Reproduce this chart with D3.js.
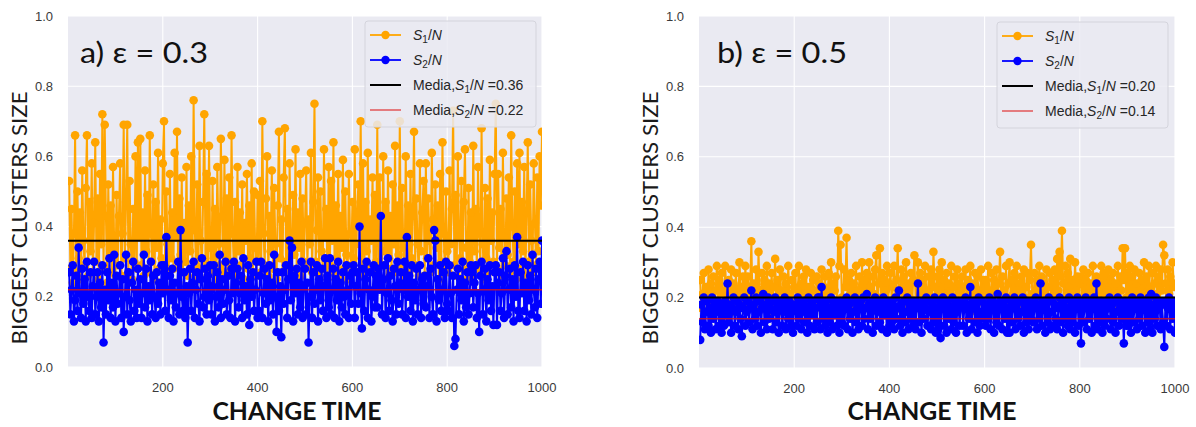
<!DOCTYPE html>
<html>
<head>
<meta charset="utf-8">
<script src="https://cdn.jsdelivr.net/npm/d3@7"></script>
<style>
  body { margin: 0; background: #ffffff; }
  svg { display: block; }
</style>
</head>
<body>
<svg id="chart" width="1196" height="427"></svg>
<script>
// Change times, sampled every 2.5 steps (400 samples)
const changeTimes = d3.range(1, 401).map(k => k * 2.5);

// Biggest cluster (S1/N) and second cluster (S2/N), epsilon = 0.3
const s1Eps03 = [
  0.53,0.28,0.45,0.24,0.38,0.66,0.27,0.50,0.31,0.44,0.25,0.56,0.36,0.29,0.51,0.66,0.26,0.47,0.33,0.58,
  0.27,0.41,0.64,0.30,0.48,0.25,0.55,0.35,0.72,0.28,0.69,0.43,0.24,0.52,0.31,0.46,0.27,0.57,0.34,0.26,
  0.49,0.29,0.43,0.58,0.26,0.38,0.69,0.31,0.47,0.69,0.27,0.53,0.35,0.25,0.45,0.30,0.60,0.28,0.64,0.37,
  0.65,0.29,0.44,0.26,0.56,0.33,0.49,0.27,0.66,0.38,0.30,0.52,0.25,0.47,0.34,0.61,0.28,0.42,0.31,0.58,
  0.70,0.27,0.50,0.35,0.26,0.55,0.31,0.44,0.28,0.61,0.37,0.67,0.24,0.48,0.32,0.54,0.27,0.41,0.30,0.57,
  0.26,0.46,0.33,0.60,0.28,0.76,0.39,0.29,0.52,0.25,0.63,0.36,0.28,0.47,0.72,0.30,0.55,0.26,0.63,0.34,
  0.27,0.53,0.31,0.45,0.25,0.57,0.35,0.29,0.65,0.43,0.27,0.59,0.32,0.48,0.26,0.54,0.30,0.66,0.38,0.28,
  0.47,0.26,0.57,0.33,0.44,0.29,0.52,0.25,0.41,0.36,0.55,0.28,0.46,0.31,0.58,0.27,0.50,0.34,0.26,0.49,
  0.30,0.53,0.27,0.70,0.38,0.29,0.48,0.60,0.26,0.43,0.33,0.56,0.28,0.51,0.35,0.25,0.46,0.67,0.31,0.42,
  0.27,0.54,0.68,0.30,0.45,0.25,0.58,0.36,0.28,0.49,0.32,0.62,0.27,0.44,0.34,0.55,0.26,0.48,0.30,0.41,
  0.56,0.29,0.42,0.35,0.61,0.27,0.47,0.75,0.30,0.39,0.54,0.26,0.50,0.33,0.28,0.62,0.37,0.45,0.25,0.57,
  0.29,0.53,0.36,0.64,0.27,0.46,0.31,0.55,0.26,0.43,0.34,0.59,0.28,0.50,0.32,0.25,0.55,0.38,0.29,0.47,
  0.31,0.62,0.27,0.44,0.52,0.35,0.70,0.29,0.58,0.26,0.47,0.33,0.61,0.28,0.42,0.36,0.54,0.27,0.49,0.30,
  0.69,0.26,0.54,0.37,0.29,0.60,0.33,0.47,0.25,0.56,0.31,0.43,0.28,0.52,0.35,0.63,0.27,0.46,0.32,0.70,
  0.28,0.51,0.34,0.25,0.60,0.38,0.46,0.27,0.55,0.31,0.43,0.67,0.29,0.48,0.35,0.26,0.58,0.33,0.44,0.53,
  0.26,0.58,0.31,0.48,0.36,0.27,0.61,0.42,0.29,0.52,0.34,0.46,0.25,0.55,0.30,0.64,0.38,0.28,0.50,0.33,
  0.27,0.56,0.35,0.45,0.73,0.29,0.49,0.26,0.60,0.37,0.31,0.53,0.28,0.47,0.62,0.34,0.25,0.51,0.30,0.44,
  0.26,0.63,0.33,0.45,0.28,0.57,0.38,0.29,0.68,0.35,0.25,0.51,0.31,0.48,0.27,0.59,0.36,0.44,0.30,0.55,
  0.75,0.28,0.55,0.34,0.45,0.26,0.61,0.37,0.29,0.48,0.32,0.54,0.27,0.66,0.40,0.30,0.50,0.25,0.58,0.35,
  0.61,0.28,0.47,0.33,0.57,0.26,0.44,0.64,0.30,0.52,0.36,0.27,0.58,0.41,0.29,0.54,0.33,0.60,0.46,0.67
];
const s2Eps03 = [
  0.27,0.15,0.22,0.29,0.13,0.19,0.26,0.16,0.34,0.21,0.14,0.28,0.18,0.25,0.13,0.30,0.20,0.16,0.27,0.14,
  0.23,0.30,0.15,0.20,0.27,0.13,0.24,0.17,0.29,0.07,0.22,0.15,0.27,0.19,0.31,0.14,0.24,0.17,0.32,0.13,
  0.26,0.18,0.21,0.29,0.14,0.25,0.10,0.20,0.32,0.15,0.27,0.19,0.13,0.24,0.30,0.16,0.22,0.14,0.28,0.18,
  0.25,0.14,0.21,0.32,0.17,0.28,0.13,0.23,0.19,0.30,0.15,0.26,0.20,0.14,0.27,0.18,0.24,0.15,0.29,0.21,
  0.29,0.16,0.37,0.22,0.14,0.26,0.19,0.28,0.13,0.24,0.17,0.21,0.30,0.15,0.39,0.20,0.16,0.27,0.14,0.23,
  0.07,0.21,0.28,0.16,0.24,0.30,0.14,0.22,0.27,0.18,0.13,0.25,0.31,0.17,0.20,0.28,0.15,0.26,0.19,0.29,
  0.15,0.23,0.29,0.13,0.20,0.27,0.17,0.32,0.14,0.25,0.18,0.22,0.30,0.15,0.26,0.19,0.14,0.28,0.21,0.30,
  0.13,0.24,0.28,0.17,0.21,0.26,0.14,0.31,0.19,0.23,0.15,0.29,0.12,0.25,0.20,0.27,0.16,0.22,0.30,0.14,
  0.16,0.26,0.30,0.14,0.21,0.28,0.18,0.25,0.13,0.29,0.19,0.24,0.15,0.32,0.20,0.10,0.27,0.16,0.23,0.085,
  0.27,0.18,0.22,0.29,0.14,0.25,0.36,0.19,0.34,0.13,0.26,0.21,0.28,0.15,0.24,0.17,0.30,0.14,0.23,0.28,
  0.15,0.24,0.07,0.20,0.30,0.14,0.27,0.18,0.22,0.29,0.13,0.25,0.19,0.28,0.16,0.23,0.31,0.14,0.26,0.17,
  0.31,0.15,0.22,0.28,0.14,0.25,0.19,0.30,0.13,0.24,0.17,0.27,0.20,0.15,0.29,0.22,0.14,0.26,0.18,0.27,
  0.29,0.14,0.23,0.27,0.18,0.40,0.21,0.11,0.28,0.16,0.25,0.30,0.14,0.22,0.27,0.13,0.20,0.29,0.17,0.26,
  0.17,0.28,0.22,0.43,0.15,0.25,0.29,0.14,0.21,0.31,0.16,0.26,0.19,0.13,0.28,0.23,0.15,0.30,0.18,0.24,
  0.27,0.15,0.22,0.30,0.14,0.37,0.20,0.26,0.16,0.29,0.13,0.24,0.19,0.28,0.15,0.22,0.29,0.14,0.25,0.18,
  0.26,0.17,0.23,0.31,0.14,0.28,0.20,0.15,0.39,0.36,0.13,0.25,0.19,0.29,0.16,0.22,0.27,0.14,0.30,0.18,
  0.16,0.29,0.21,0.14,0.26,0.06,0.08,0.22,0.28,0.15,0.25,0.19,0.30,0.13,0.24,0.17,0.27,0.15,0.21,0.29,
  0.27,0.17,0.24,0.29,0.14,0.21,0.10,0.26,0.30,0.15,0.22,0.28,0.13,0.25,0.19,0.29,0.16,0.23,0.12,0.27,
  0.29,0.12,0.24,0.27,0.16,0.21,0.31,0.14,0.26,0.33,0.15,0.22,0.28,0.17,0.25,0.13,0.29,0.20,0.37,0.16,
  0.14,0.27,0.21,0.30,0.16,0.24,0.13,0.29,0.19,0.26,0.15,0.32,0.22,0.17,0.28,0.14,0.25,0.30,0.18,0.36
];

// Biggest cluster (S1/N) and second cluster (S2/N), epsilon = 0.5
const s1Eps05 = [
  0.25,0.17,0.21,0.27,0.19,0.23,0.16,0.28,0.20,0.24,0.18,0.26,0.17,0.22,0.29,0.19,0.25,0.16,0.27,0.21,
  0.18,0.29,0.22,0.17,0.25,0.20,0.28,0.16,0.24,0.19,0.27,0.21,0.17,0.30,0.23,0.18,0.26,0.20,0.29,0.17,
  0.26,0.19,0.23,0.36,0.18,0.24,0.20,0.28,0.16,0.33,0.22,0.19,0.27,0.17,0.25,0.21,0.29,0.18,0.24,0.16,
  0.27,0.20,0.23,0.31,0.17,0.25,0.19,0.28,0.22,0.16,0.26,0.20,0.24,0.18,0.29,0.21,0.17,0.25,0.19,0.23,
  0.27,0.18,0.22,0.29,0.19,0.24,0.17,0.26,0.21,0.28,0.16,0.23,0.20,0.27,0.18,0.25,0.22,0.17,0.26,0.19,
  0.24,0.20,0.28,0.17,0.23,0.26,0.18,0.21,0.27,0.19,0.30,0.17,0.24,0.22,0.26,0.18,0.39,0.29,0.35,0.20,
  0.19,0.28,0.23,0.37,0.18,0.25,0.21,0.27,0.17,0.24,0.20,0.29,0.18,0.22,0.26,0.19,0.30,0.17,0.25,0.21,
  0.27,0.19,0.30,0.23,0.18,0.26,0.21,0.28,0.32,0.17,0.24,0.34,0.20,0.27,0.18,0.25,0.22,0.29,0.19,0.24,
  0.27,0.18,0.23,0.29,0.20,0.25,0.34,0.17,0.22,0.28,0.19,0.26,0.21,0.30,0.18,0.24,0.20,0.27,0.17,0.25,
  0.32,0.19,0.24,0.30,0.18,0.27,0.21,0.25,0.17,0.29,0.22,0.19,0.26,0.20,0.28,0.18,0.33,0.23,0.19,0.26,
  0.17,0.28,0.22,0.30,0.19,0.25,0.21,0.27,0.18,0.24,0.20,0.29,0.17,0.23,0.26,0.19,0.28,0.21,0.24,0.18,
  0.26,0.19,0.23,0.28,0.17,0.25,0.21,0.29,0.18,0.24,0.20,0.27,0.16,0.26,0.22,0.19,0.28,0.20,0.25,0.18,
  0.25,0.19,0.29,0.22,0.17,0.27,0.20,0.25,0.18,0.28,0.21,0.24,0.33,0.19,0.26,0.22,0.18,0.29,0.20,0.24,
  0.30,0.18,0.25,0.21,0.27,0.19,0.29,0.17,0.24,0.22,0.26,0.18,0.28,0.20,0.23,0.27,0.19,0.25,0.35,0.21,
  0.18,0.27,0.22,0.25,0.19,0.29,0.17,0.26,0.21,0.24,0.18,0.28,0.20,0.23,0.27,0.19,0.25,0.21,0.28,0.18,
  0.31,0.22,0.33,0.26,0.39,0.24,0.19,0.29,0.21,0.27,0.18,0.31,0.20,0.25,0.17,0.30,0.22,0.26,0.19,0.24,
  0.26,0.19,0.28,0.21,0.25,0.18,0.27,0.20,0.24,0.17,0.29,0.22,0.19,0.26,0.21,0.24,0.18,0.29,0.20,0.27,
  0.19,0.26,0.22,0.28,0.18,0.25,0.20,0.27,0.17,0.24,0.21,0.29,0.19,0.26,0.22,0.34,0.25,0.34,0.20,0.27,
  0.18,0.29,0.21,0.26,0.19,0.28,0.20,0.24,0.17,0.27,0.22,0.25,0.19,0.30,0.21,0.26,0.18,0.29,0.23,0.20,
  0.27,0.19,0.24,0.29,0.21,0.26,0.18,0.28,0.22,0.35,0.32,0.24,0.19,0.28,0.21,0.26,0.18,0.30,0.23,0.24
];
const s2Eps05 = [
  0.08,0.18,0.13,0.20,0.11,0.16,0.19,0.12,0.17,0.10,0.20,0.14,0.18,0.11,0.16,0.19,0.12,0.17,0.10,0.18,
  0.12,0.19,0.15,0.24,0.13,0.18,0.10,0.17,0.20,0.12,0.16,0.19,0.11,0.18,0.14,0.09,0.17,0.20,0.12,0.16,
  0.19,0.13,0.17,0.22,0.11,0.18,0.14,0.20,0.12,0.16,0.19,0.10,0.17,0.21,0.13,0.18,0.11,0.20,0.14,0.17,
  0.19,0.11,0.16,0.20,0.13,0.18,0.10,0.17,0.19,0.12,0.16,0.20,0.11,0.18,0.14,0.19,0.12,0.17,0.10,0.18,
  0.17,0.12,0.20,0.14,0.18,0.11,0.16,0.19,0.13,0.17,0.10,0.20,0.12,0.18,0.15,0.19,0.11,0.17,0.13,0.20,
  0.20,0.11,0.23,0.14,0.18,0.12,0.19,0.10,0.17,0.13,0.20,0.11,0.18,0.15,0.19,0.12,0.17,0.10,0.19,0.13,
  0.19,0.12,0.17,0.20,0.11,0.18,0.14,0.19,0.10,0.16,0.20,0.13,0.18,0.11,0.17,0.19,0.12,0.20,0.14,0.17,
  0.21,0.11,0.18,0.14,0.19,0.10,0.17,0.20,0.12,0.16,0.19,0.13,0.18,0.11,0.20,0.15,0.17,0.10,0.19,0.12,
  0.19,0.13,0.18,0.11,0.20,0.14,0.17,0.22,0.12,0.18,0.10,0.19,0.13,0.16,0.20,0.11,0.18,0.14,0.19,0.12,
  0.19,0.11,0.17,0.24,0.13,0.18,0.10,0.19,0.14,0.17,0.20,0.12,0.16,0.19,0.11,0.18,0.13,0.20,0.10,0.17,
  0.11,0.19,0.085,0.17,0.20,0.12,0.18,0.10,0.19,0.14,0.17,0.11,0.20,0.13,0.18,0.10,0.16,0.19,0.12,0.18,
  0.19,0.12,0.17,0.20,0.10,0.18,0.14,0.23,0.11,0.17,0.19,0.13,0.18,0.10,0.20,0.12,0.16,0.19,0.14,0.18,
  0.12,0.18,0.14,0.20,0.11,0.17,0.19,0.10,0.18,0.13,0.21,0.12,0.17,0.19,0.11,0.18,0.14,0.20,0.10,0.17,
  0.10,0.19,0.13,0.17,0.20,0.11,0.18,0.14,0.19,0.12,0.16,0.20,0.10,0.18,0.13,0.19,0.11,0.17,0.14,0.19,
  0.13,0.17,0.20,0.11,0.18,0.14,0.24,0.12,0.17,0.19,0.10,0.18,0.13,0.20,0.11,0.16,0.19,0.12,0.18,0.14,
  0.11,0.17,0.20,0.13,0.18,0.10,0.19,0.14,0.17,0.12,0.20,0.11,0.18,0.13,0.19,0.10,0.17,0.20,0.12,0.18,
  0.07,0.19,0.13,0.17,0.20,0.11,0.18,0.14,0.19,0.10,0.17,0.20,0.12,0.24,0.11,0.18,0.13,0.19,0.10,0.17,
  0.12,0.19,0.14,0.17,0.20,0.11,0.18,0.13,0.19,0.10,0.16,0.20,0.12,0.18,0.14,0.17,0.07,0.19,0.12,0.18,
  0.12,0.18,0.10,0.20,0.13,0.17,0.19,0.11,0.18,0.14,0.20,0.12,0.17,0.19,0.10,0.18,0.13,0.20,0.11,0.21,
  0.10,0.18,0.14,0.20,0.12,0.17,0.19,0.11,0.18,0.13,0.06,0.19,0.12,0.17,0.20,0.11,0.18,0.14,0.19,0.10
];

// Reported averages shown in the legends
const meanS1 = [0.36, 0.20];
const meanS2 = [0.22, 0.14];

const panelLabels = ["a) \u03b5 = 0.3", "b) \u03b5 = 0.5"];
const yTickValues = [0.0, 0.2, 0.4, 0.6, 0.8, 1.0];
const xTickValues = [200, 400, 600, 800, 1000];
const yTitle = "BIGGEST CLUSTERS SIZE";
const xTitle = "CHANGE TIME";

// Panel geometry
const panels = [
  { left: 68,  right: 542,  top: 16, bottom: 367, s1: s1Eps03, s2: s2Eps03,
    legendX: 365, legendY: 21, labelX: 80,  labelW: 128, yTitleX: 19,  xTitleX: 297 },
  { left: 699, right: 1175, top: 16, bottom: 368, s1: s1Eps05, s2: s2Eps05,
    legendX: 997, legendY: 22, labelX: 717, labelW: 130, yTitleX: 650, xTitleX: 932 }
];

const COLORS = { s1: "#FFA500", s2: "#0000FF", mean1: "#000000", mean2: "#E01818", bg: "#EAEAF2" };
const tickFont = "'Liberation Sans', Arial, sans-serif";
const titleFont = "Lato, 'Open Sans', sans-serif";
const SERIES_WIDTH = 2;
const MARKER_R = 4.3;

const svg = d3.select("#chart");
const defs = svg.append("defs");

panels.forEach((p, i) => {
  const x = d3.scaleLinear().domain([0, 1000]).range([p.left, p.right]);
  const y = d3.scaleLinear().domain([0, 1]).range([p.bottom, p.top]);
  const g = svg.append("g");

  const clipId = "plot-clip-" + i;
  defs.append("clipPath").attr("id", clipId)
    .append("rect")
    .attr("x", p.left).attr("y", p.top)
    .attr("width", p.right - p.left).attr("height", p.bottom - p.top);

  // plot background
  g.append("rect")
    .attr("x", p.left).attr("y", p.top)
    .attr("width", p.right - p.left).attr("height", p.bottom - p.top)
    .attr("fill", COLORS.bg);

  // white grid
  g.append("g").selectAll("line").data(yTickValues).join("line")
    .attr("x1", p.left).attr("x2", p.right)
    .attr("y1", d => y(d)).attr("y2", d => y(d))
    .attr("stroke", "#ffffff").attr("stroke-width", 1.1);
  g.append("g").selectAll("line").data(xTickValues).join("line")
    .attr("x1", d => x(d)).attr("x2", d => x(d))
    .attr("y1", p.top).attr("y2", p.bottom)
    .attr("stroke", "#ffffff").attr("stroke-width", 1.1);

  const plot = g.append("g").attr("clip-path", `url(#${clipId})`);
  const line = d3.line().x((d, k) => x(changeTimes[k])).y(d => y(d));

  const drawSeries = (values, color) => {
    plot.append("path").datum(values)
      .attr("d", line)
      .attr("fill", "none")
      .attr("stroke", color)
      .attr("stroke-width", SERIES_WIDTH)
      .attr("stroke-linejoin", "round");
    plot.append("g").selectAll("circle").data(values).join("circle")
      .attr("cx", (d, k) => x(changeTimes[k]))
      .attr("cy", d => y(d))
      .attr("r", MARKER_R)
      .attr("fill", color);
  };
  drawSeries(p.s1, COLORS.s1);
  drawSeries(p.s2, COLORS.s2);

  // average lines
  plot.append("line")
    .attr("x1", p.left).attr("x2", p.right)
    .attr("y1", y(meanS1[i])).attr("y2", y(meanS1[i]))
    .attr("stroke", COLORS.mean1).attr("stroke-width", 2);
  plot.append("line")
    .attr("x1", p.left).attr("x2", p.right)
    .attr("y1", y(meanS2[i])).attr("y2", y(meanS2[i]))
    .attr("stroke", COLORS.mean2).attr("stroke-opacity", 0.8).attr("stroke-width", 1.5);

  // tick labels
  g.append("g").selectAll("text").data(yTickValues).join("text")
    .attr("x", p.left - 15).attr("y", d => y(d)).attr("dy", "0.36em")
    .attr("text-anchor", "end")
    .attr("font-family", tickFont).attr("font-size", 13).attr("fill", "#3a3a3a")
    .text(d => d3.format(".1f")(d));
  g.append("g").selectAll("text").data(xTickValues).join("text")
    .attr("x", d => x(d)).attr("y", p.bottom + 25)
    .attr("text-anchor", "middle")
    .attr("font-family", tickFont).attr("font-size", 13).attr("fill", "#3a3a3a")
    .text(d => d);

  // axis titles
  g.append("text")
    .attr("transform", `translate(${p.yTitleX + 8},${218}) rotate(-90)`)
    .attr("text-anchor", "middle")
    .attr("font-family", titleFont).attr("font-size", 22).attr("fill", "#1a1a1a")
    .attr("textLength", 253).attr("lengthAdjust", "spacingAndGlyphs")
    .text(yTitle);
  g.append("text")
    .attr("x", p.xTitleX).attr("y", 420)
    .attr("text-anchor", "middle")
    .attr("font-family", titleFont).attr("font-size", 24).attr("font-weight", 700)
    .attr("fill", "#111111")
    .attr("textLength", 169).attr("lengthAdjust", "spacingAndGlyphs")
    .text(xTitle);

  // panel label
  g.append("text")
    .attr("x", p.labelX).attr("y", 63)
    .attr("font-family", titleFont).attr("font-size", 28).attr("fill", "#111111")
    .attr("textLength", p.labelW).attr("lengthAdjust", "spacingAndGlyphs")
    .text(panelLabels[i]);

  // legend
  const lg = g.append("g").attr("transform", `translate(${p.legendX},${p.legendY})`);
  lg.append("rect")
    .attr("width", 171).attr("height", 106).attr("rx", 3)
    .attr("fill", COLORS.bg).attr("fill-opacity", 0.85)
    .attr("stroke", "#d4d4dc").attr("stroke-width", 1);

  const rows = [
    { color: COLORS.s1, marker: true, width: 1.8, opacity: 1, prefix: "", sub: "1", suffix: "" },
    { color: COLORS.s2, marker: true, width: 1.8, opacity: 1, prefix: "", sub: "2", suffix: "" },
    { color: COLORS.mean1, marker: false, width: 2, opacity: 1, prefix: "Media,", sub: "1", suffix: " =" + meanS1[i].toFixed(2) },
    { color: COLORS.mean2, marker: false, width: 1.5, opacity: 0.7, prefix: "Media,", sub: "2", suffix: " =" + meanS2[i].toFixed(2) }
  ];
  rows.forEach((r, k) => {
    const cy = 14 + k * 25;
    lg.append("line")
      .attr("x1", 5).attr("x2", 36).attr("y1", cy).attr("y2", cy)
      .attr("stroke", r.color).attr("stroke-width", r.width).attr("stroke-opacity", r.opacity);
    if (r.marker) {
      lg.append("circle").attr("cx", 20.5).attr("cy", cy).attr("r", 4.2).attr("fill", r.color);
    }
    const t = lg.append("text")
      .attr("x", 48).attr("y", cy + 5)
      .attr("font-family", tickFont).attr("font-size", 14).attr("fill", "#262626");
    if (r.prefix) t.append("tspan").text(r.prefix);
    t.append("tspan").attr("font-style", "italic").text("S");
    t.append("tspan").attr("font-size", 10).attr("dy", 3).text(r.sub);
    t.append("tspan").attr("dy", -3).text("/");
    t.append("tspan").attr("font-style", "italic").text("N");
    if (r.suffix) t.append("tspan").text(r.suffix);
  });
});
</script>
</body>
</html>
